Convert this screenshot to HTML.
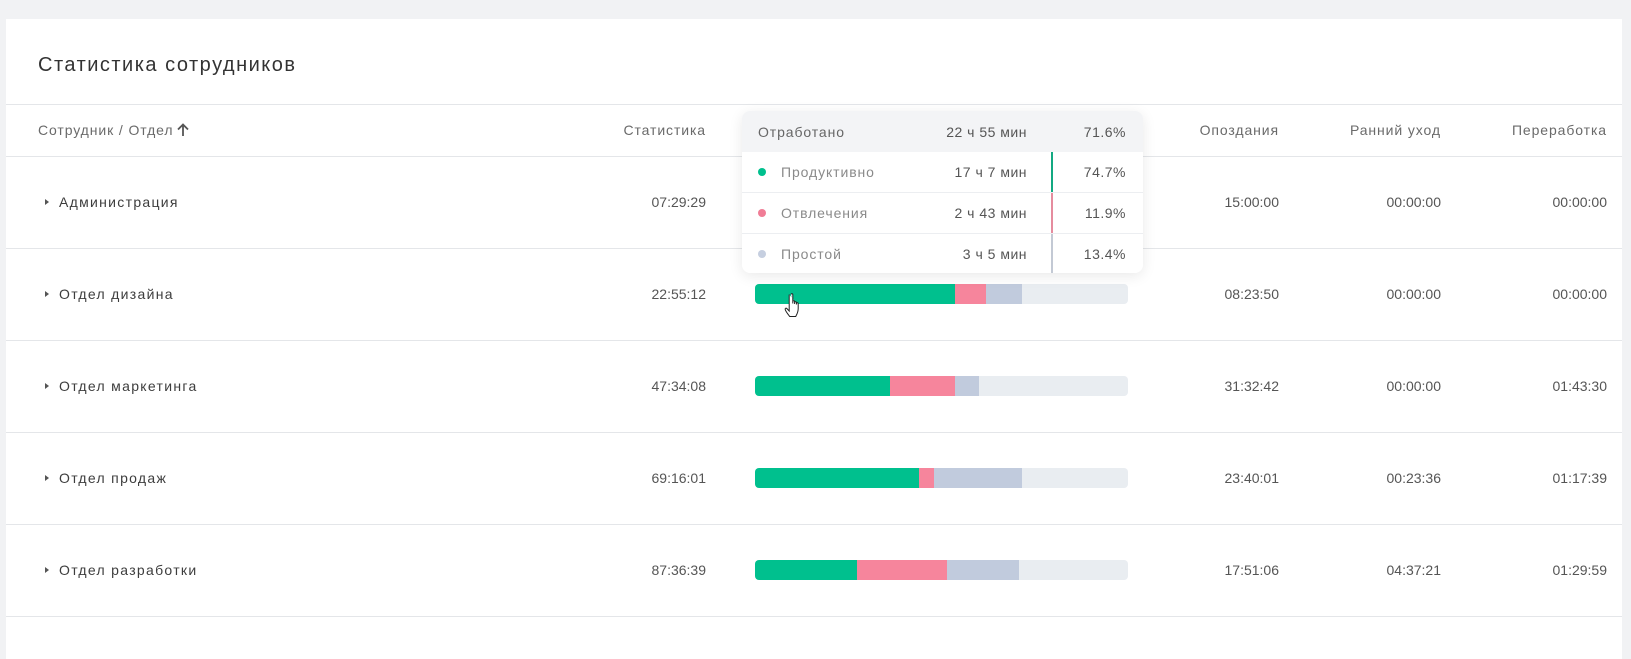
<!DOCTYPE html>
<html><head><meta charset="utf-8">
<style>
html,body{margin:0;padding:0;}
body{width:1631px;height:629px;overflow:hidden;background:#f1f2f4;position:relative;font-family:"Liberation Sans","Noto Sans CJK SC",sans-serif;}
.card{position:absolute;left:6px;top:19px;width:1616px;height:640px;background:#fff;}
.t{position:absolute;line-height:20px;height:20px;white-space:nowrap;font-size:14px;}
.r{text-align:right;}
.hl{position:absolute;left:6px;width:1616px;height:1px;background:#e4e6e9;}
.hdr{color:#6a6a6a;letter-spacing:0.9px;}
.name{color:#3d3d3d;letter-spacing:1.3px;}
.val{color:#555;}
.tri{position:absolute;width:0;height:0;border-top:3.5px solid transparent;border-bottom:3.5px solid transparent;border-left:4px solid #555;}
.bar{position:absolute;left:755px;width:373px;height:20px;border-radius:4px;background:#e9edf1;overflow:hidden;}
.bar div{position:absolute;top:0;height:20px;}
.g{background:#00c08e;}.p{background:#f6859c;}.b{background:#c1cbdd;}
.tip{position:absolute;left:742px;top:111px;width:401px;height:162px;background:#fff;border-radius:8px;box-shadow:0 3px 14px rgba(0,0,0,0.09);overflow:hidden;}
.tip .th{position:absolute;left:0;top:0;width:401px;height:41px;background:#f3f4f6;}
.tip .sep{position:absolute;left:0;width:401px;height:1px;background:#eceef1;}
.tip .vl{position:absolute;left:309px;width:2px;}
.dot{position:absolute;width:8px;height:8px;border-radius:50%;}
.tl{color:#8a8a8a;letter-spacing:0.9px;}
.tv{color:#555;letter-spacing:0.5px;}
</style></head><body>
<div class="card"></div>
<div class="t" style="left:38px;top:55px;font-size:20px;line-height:20px;height:22px;color:#333;letter-spacing:1.5px;">Статистика сотрудников</div>

<div class="hl" style="top:104px"></div>
<div class="hl" style="top:156px"></div>
<div class="hl" style="top:248px"></div>
<div class="hl" style="top:340px"></div>
<div class="hl" style="top:432px"></div>
<div class="hl" style="top:524px"></div>
<div class="hl" style="top:616px"></div>

<!-- header -->
<div class="t hdr" style="left:38px;top:120px;">Сотрудник / Отдел</div>
<svg style="position:absolute;left:175px;top:122px" width="16" height="16" viewBox="0 0 16 16"><path d="M8 14V3M3 7.5L8 2.5L13 7.5" stroke="#555" stroke-width="1.8" fill="none"/></svg>
<div class="t hdr r" style="right:925px;top:120px;">Статистика</div>
<div class="t hdr r" style="right:352px;top:120px;">Опоздания</div>
<div class="t hdr r" style="right:190px;top:120px;">Ранний уход</div>
<div class="t hdr r" style="right:24px;top:120px;">Переработка</div>

<!-- rows -->
<div class="tri" style="left:45px;top:198.5px"></div>
<div class="t name" style="left:59px;top:192px;">Администрация</div>
<div class="t val r" style="right:925px;top:192px;">07:29:29</div>
<div class="t val r" style="right:352px;top:192px;">15:00:00</div>
<div class="t val r" style="right:190px;top:192px;">00:00:00</div>
<div class="t val r" style="right:24px;top:192px;">00:00:00</div>

<div class="tri" style="left:45px;top:290.5px"></div>
<div class="t name" style="left:59px;top:284px;">Отдел дизайна</div>
<div class="t val r" style="right:925px;top:284px;">22:55:12</div>
<div class="t val r" style="right:352px;top:284px;">08:23:50</div>
<div class="t val r" style="right:190px;top:284px;">00:00:00</div>
<div class="t val r" style="right:24px;top:284px;">00:00:00</div>
<div class="bar" style="top:284px"><div class="g" style="left:0;width:200px"></div><div class="p" style="left:200px;width:31px"></div><div class="b" style="left:231px;width:36px"></div></div>

<div class="tri" style="left:45px;top:382.5px"></div>
<div class="t name" style="left:59px;top:376px;">Отдел маркетинга</div>
<div class="t val r" style="right:925px;top:376px;">47:34:08</div>
<div class="t val r" style="right:352px;top:376px;">31:32:42</div>
<div class="t val r" style="right:190px;top:376px;">00:00:00</div>
<div class="t val r" style="right:24px;top:376px;">01:43:30</div>
<div class="bar" style="top:376px"><div class="g" style="left:0;width:135px"></div><div class="p" style="left:135px;width:65px"></div><div class="b" style="left:200px;width:24px"></div></div>

<div class="tri" style="left:45px;top:474.5px"></div>
<div class="t name" style="left:59px;top:468px;">Отдел продаж</div>
<div class="t val r" style="right:925px;top:468px;">69:16:01</div>
<div class="t val r" style="right:352px;top:468px;">23:40:01</div>
<div class="t val r" style="right:190px;top:468px;">00:23:36</div>
<div class="t val r" style="right:24px;top:468px;">01:17:39</div>
<div class="bar" style="top:468px"><div class="g" style="left:0;width:164px"></div><div class="p" style="left:164px;width:15px"></div><div class="b" style="left:179px;width:88px"></div></div>

<div class="tri" style="left:45px;top:566.5px"></div>
<div class="t name" style="left:59px;top:560px;">Отдел разработки</div>
<div class="t val r" style="right:925px;top:560px;">87:36:39</div>
<div class="t val r" style="right:352px;top:560px;">17:51:06</div>
<div class="t val r" style="right:190px;top:560px;">04:37:21</div>
<div class="t val r" style="right:24px;top:560px;">01:29:59</div>
<div class="bar" style="top:560px"><div class="g" style="left:0;width:102px"></div><div class="p" style="left:102px;width:90px"></div><div class="b" style="left:192px;width:72px"></div></div>

<!-- tooltip -->
<div class="tip">
  <div class="th"></div>
  <div class="sep" style="top:81px"></div>
  <div class="sep" style="top:122px"></div>
  <div class="vl" style="top:41px;height:40px;background:#13a982"></div>
  <div class="vl" style="top:82px;height:40px;background:#e58c9e"></div>
  <div class="vl" style="top:123px;height:39px;background:#c3c9d4"></div>

  <div class="t" style="left:16px;top:11px;color:#666;letter-spacing:0.9px;">Отработано</div>
  <div class="t tv r" style="right:116px;top:11px;">22 ч 55 мин</div>
  <div class="t tv r" style="right:17px;top:11px;">71.6%</div>

  <div class="dot" style="left:16px;top:57px;background:#00c08e"></div>
  <div class="t tl" style="left:39px;top:51px;">Продуктивно</div>
  <div class="t tv r" style="right:116px;top:51px;">17 ч 7 мин</div>
  <div class="t tv r" style="right:17px;top:51px;">74.7%</div>

  <div class="dot" style="left:16px;top:98px;background:#f07d96"></div>
  <div class="t tl" style="left:39px;top:92px;">Отвлечения</div>
  <div class="t tv r" style="right:116px;top:92px;">2 ч 43 мин</div>
  <div class="t tv r" style="right:17px;top:92px;">11.9%</div>

  <div class="dot" style="left:16px;top:139px;background:#c6cfe0"></div>
  <div class="t tl" style="left:39px;top:133px;">Простой</div>
  <div class="t tv r" style="right:116px;top:133px;">3 ч 5 мин</div>
  <div class="t tv r" style="right:17px;top:133px;">13.4%</div>
</div>

<!-- cursor -->
<svg style="position:absolute;left:784px;top:292px" width="22" height="28" viewBox="0 0 22 28">
<path d="M7 2.5c0-1 1.8-1 1.8 0v9 M8.8 9.5c0-1 1.8-1 1.8 0v2.5 M10.6 10.5c0-1 1.8-1 1.8 0v2 M12.4 11.5c0-1 1.8-1 1.8 0v5c0 4-1.5 6-2.5 8h-6c-1.5-2-4-5-4.5-7-.3-1.2.8-1.8 1.6-1l2.4 2.5V2.5" fill="#fff" stroke="#222" stroke-width="1"/>
</svg>
</body></html>
